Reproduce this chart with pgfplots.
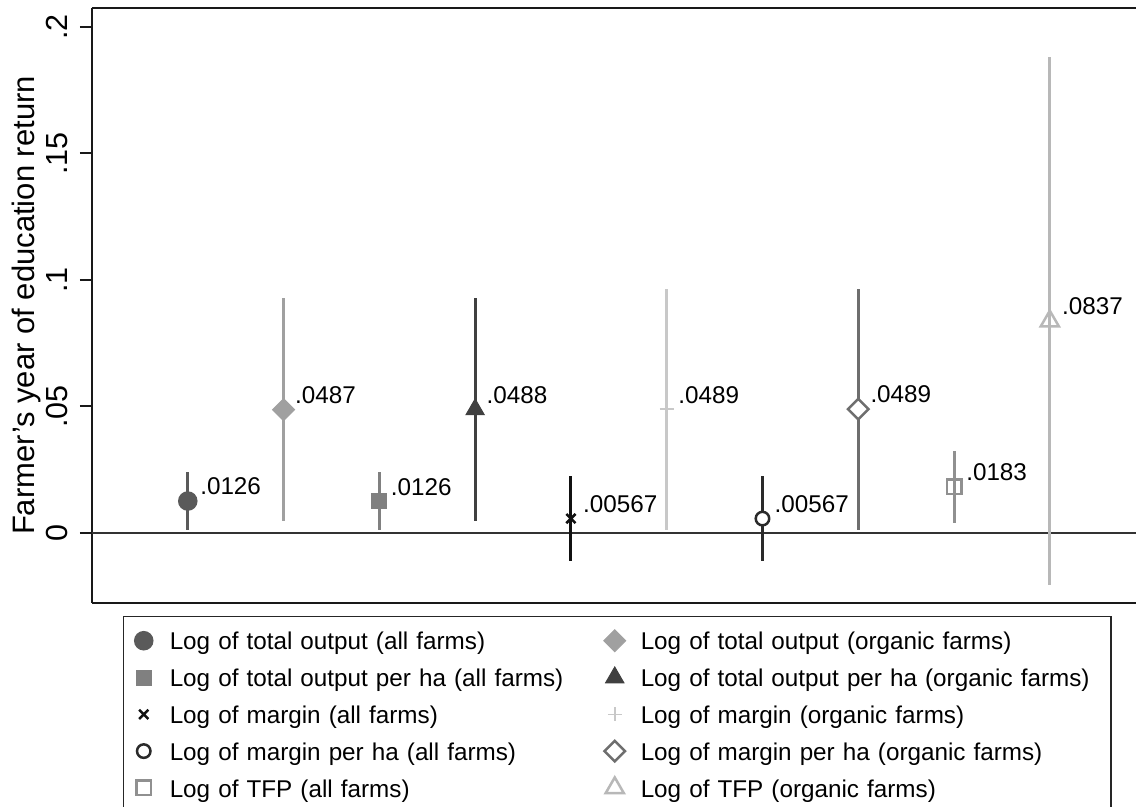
\documentclass[border=0pt]{standalone}
\usepackage{pgfplots}
\pgfplotsset{compat=1.18}
\usepackage{fontspec}
\setmainfont{Liberation Sans}

\definecolor{c1}{HTML}{5A5A5A}
\definecolor{c2}{HTML}{A0A0A0}
\definecolor{c3}{HTML}{808080}
\definecolor{c4}{HTML}{404040}
\definecolor{c5}{HTML}{111111}
\definecolor{c6}{HTML}{C8C8C8}
\definecolor{c7}{HTML}{2A2A2A}
\definecolor{c8}{HTML}{6E6E6E}
\definecolor{c9}{HTML}{909090}
\definecolor{c10}{HTML}{B8B8B8}

\pgfplotsset{
  ci/.style={only marks, line width=1.2pt,
    error bars/y dir=both, error bars/y explicit, error bars/error mark=none,
    error bars/error bar style={line width=1.2pt, solid}},
}

\begin{document}
\begin{tikzpicture}
\begin{axis}[
  name=ax,
  scale only axis,
  width=417.6pt, height=238pt,
  xmin=0, xmax=10.9, ymin=-0.0277, ymax=0.2075,
  axis x line*=box, axis y line*=left,
  every outer x axis line/.append style={-},
  every outer y axis line/.append style={-},
  axis line style={line width=0.8pt, black!90},
  xtick=\empty,
  ytick={0,0.05,0.1,0.15,0.2},
  yticklabels={0,.05,.1,.15,.2},
  tick align=outside, major tick length=4.8pt,
  tick style={line width=0.8pt, black!90},
  yticklabel style={rotate=90, anchor=base, font=\fontsize{12.2}{14}\selectfont},
  yticklabel shift=4.8pt,
  ylabel={Farmer's year of education return},
  every axis y label/.style={at={(axis description cs:-0.0546,0.5)}, rotate=90, anchor=base,
    font=\fontsize{12.4}{14}\selectfont},
  every node near coord/.style={anchor=south west, inner sep=0pt, xshift=4.4pt, yshift=2pt,
    font=\fontsize{9.7}{11}\selectfont, black},
  legend columns=2,
  legend cell align=left,
  legend image code/.code={\path[draw=none, fill=none] (-5pt,-5pt) rectangle (5pt,5pt); \draw[#1] plot coordinates {(0pt,0pt)};},
  legend style={at={(axis description cs:0.0297,-0.0218)}, anchor=north west,
    draw=black!85, line width=0.6pt, inner xsep=3pt, inner ysep=4.6pt,
    font=\fontsize{9.7}{11}\selectfont,
    nodes={inner sep=0pt, text height=7.4pt, text depth=0pt, text width=185pt, align=left},
    row sep=4.72pt,
    /tikz/every odd column/.append style={column sep=5.4pt},
    /tikz/every even column/.append style={column sep=-12pt}},
]
\addplot[forget plot, line width=0.8pt, color=black!80] coordinates {(0,0) (10.9,0)};

\addplot[ci, color=c1, mark=*, mark size=3.3pt, nodes near coords={.0126}]
  coordinates {(1,0.0126) +- (0,0.0116)};
\addlegendentry{\mbox{Log of total output (all farms)}}
\addplot[ci, color=c2, mark=diamond*, mark size=4.4pt, mark options={xscale=1.333, line width=0.4pt},
  nodes near coords={.0487}]
  coordinates {(2,0.0487) +- (0,0.0440)};
\addlegendentry{\mbox{Log of total output (organic farms)}}
\addplot[ci, color=c3, mark=square*, mark size=3pt, mark options={line width=0.4pt},
  nodes near coords={.0126}]
  coordinates {(3,0.0126) +- (0,0.0116)};
\addlegendentry{\mbox{Log of total output per ha (all farms)}}
\addplot[ci, color=c4, mark=triangle*, mark size=4.2pt, mark options={line width=0.4pt},
  nodes near coords={.0488}]
  coordinates {(4,0.0488) +- (0,0.0441)};
\addlegendentry{\mbox{Log of total output per ha (organic farms)}}
\addplot[ci, color=c5, mark=x, mark size=2.6pt, mark options={line width=1pt},
  nodes near coords={.00567}]
  coordinates {(5,0.00567) +- (0,0.0167)};
\addlegendentry{\mbox{Log of margin (all farms)}}
\addplot[ci, color=c6, mark=+, mark size=2.8pt, mark options={line width=0.6pt},
  nodes near coords={.0489}]
  coordinates {(6,0.0489) +- (0,0.0476)};
\addlegendentry{\mbox{Log of margin (organic farms)}}
\addplot[ci, color=c7, mark=*, mark size=2.7pt, mark options={fill=white, line width=1pt},
  nodes near coords={.00567}]
  coordinates {(7,0.00567) +- (0,0.0167)};
\addlegendentry{\mbox{Log of margin per ha (all farms)}}
\addplot[ci, color=c8, mark=diamond*, mark size=4.1pt, mark options={fill=white, xscale=1.333, line width=1pt},
  nodes near coords={.0489}]
  coordinates {(8,0.0489) +- (0,0.0476)};
\addlegendentry{\mbox{Log of margin per ha (organic farms)}}
\addplot[ci, color=c9, mark=square, mark size=2.9pt, mark options={line width=1pt},
  nodes near coords={.0183}]
  coordinates {(9,0.0183) +- (0,0.0142)};
\addlegendentry{\mbox{Log of TFP (all farms)}}
\addplot[ci, color=c10, mark=triangle, mark size=4.2pt, mark options={line width=1pt},
  nodes near coords={.0837}]
  coordinates {(10,0.0837) +- (0,0.1043)};
\addlegendentry{\mbox{Log of TFP (organic farms)}}
\end{axis}
\pgfresetboundingbox
\path ([shift={(-36.8pt,-81.6pt)}]ax.south west) rectangle ([shift={(0pt,3.2pt)}]ax.north east);
\end{tikzpicture}
\end{document}
